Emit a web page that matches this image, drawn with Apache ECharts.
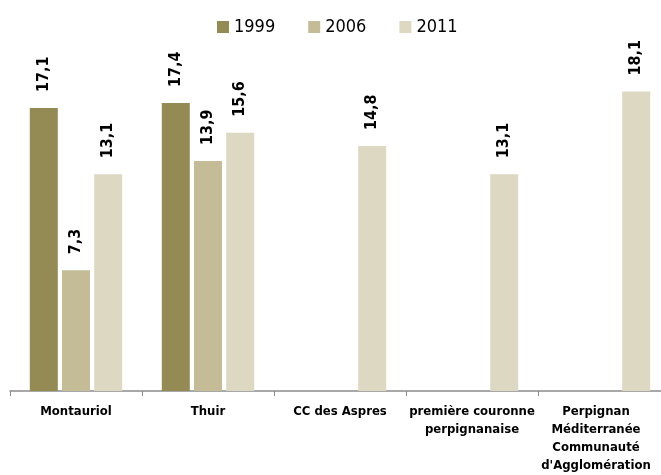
<!DOCTYPE html>
<html>
<head>
<meta charset="utf-8">
<script src="https://cdn.jsdelivr.net/npm/echarts@6/dist/echarts.min.js"></script>
<style>
  html, body { margin: 0; padding: 0; background: #fff; }
  #chart { width: 661px; height: 475px; }
</style>
</head>
<body>
<div id="chart"></div>
<script>
// données
var categories = ['Montauriol', 'Thuir', 'CC des Aspres', 'première couronne\nperpignanaise', 'Perpignan\nMéditerranée\nCommunauté\nd\'Agglomération'];
var years = ['1999', '2006', '2011'];
var values1999 = [17.1, 17.4, null, null, null];
var values2006 = [7.3, 13.9, null, null, null];
var values2011 = [13.1, 15.6, 14.8, 13.1, 18.1];
var colors = ['#948a54', '#c4bc96', '#ddd8c2'];

var font = "'Liberation Sans Narrow', 'DejaVu Sans Condensed', 'Open Sans', sans-serif";

// le dernier libellé est décalé vers la gauche pour rester dans le cadre
var categoryData = categories.map(function (c, i) {
    if (i === categories.length - 1) {
        return { value: c, textStyle: { padding: [0, 16, 0, 0] } };
    }
    return c;
});

function makeSeries(name, data, color) {
    return {
        name: name,
        type: 'bar',
        data: data,
        barGap: '15%',
        barCategoryGap: '30%',
        itemStyle: { color: color },
        label: {
            show: true,
            position: 'top',
            rotate: 90,
            align: 'left',
            verticalAlign: 'middle',
            distance: 16,
            fontFamily: font,
            fontWeight: 'bold',
            fontSize: 16,
            color: '#000',
            formatter: function (p) {
                return p.value == null ? '' : p.value.toFixed(1).replace('.', ',');
            }
        }
    };
}

var myChart = echarts.init(document.getElementById('chart'));
myChart.setOption({
    animation: false,
    legend: {
        data: years,
        left: 212,
        top: 13,
        itemWidth: 12,
        itemHeight: 12,
        itemGap: 33,
        icon: 'rect',
        textStyle: { fontFamily: font, fontSize: 18, color: '#000' }
    },
    grid: {
        left: 10,
        right: -9,
        top: 60,
        bottom: 84,
        outerBoundsMode: 'none'
    },
    xAxis: {
        type: 'category',
        data: categoryData,
        axisLine: { lineStyle: { color: '#8c8c8c', width: 1.5 } },
        axisTick: { show: true, length: 5, lineStyle: { color: '#8c8c8c' } },
        axisLabel: {
            interval: 0,
            margin: 12,
            fontFamily: font,
            fontWeight: 'bold',
            fontSize: 13,
            lineHeight: 18,
            color: '#000'
        }
    },
    yAxis: {
        type: 'value',
        min: 0,
        max: 20,
        show: false
    },
    series: [
        makeSeries(years[0], values1999, colors[0]),
        makeSeries(years[1], values2006, colors[1]),
        makeSeries(years[2], values2011, colors[2])
    ]
});
</script>
</body>
</html>
